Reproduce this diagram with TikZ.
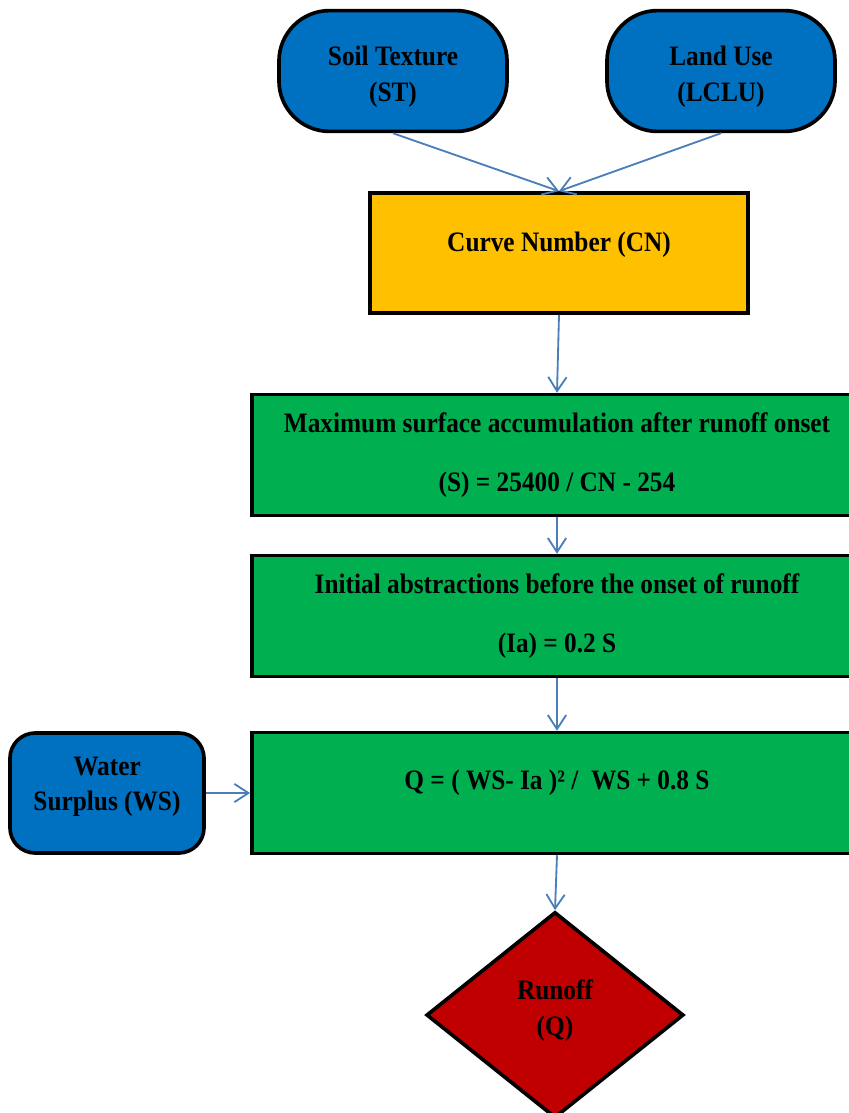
\documentclass[tikz,border=0pt]{standalone}
\usepackage{fontspec}
\setmainfont{Liberation Serif}[FakeStretch=0.9]
\usetikzlibrary{arrows.meta,shapes.geometric}

\definecolor{inblue}{HTML}{0070C0}
\definecolor{cnyellow}{HTML}{FFC000}
\definecolor{stepgreen}{HTML}{00B050}
\definecolor{outred}{HTML}{C00000}
\definecolor{linkblue}{HTML}{4A7EBB}

\begin{document}
\begin{tikzpicture}[x=0.025cm, y=-0.025cm,
    box/.style={draw=black, line width=2.6pt, align=center,
        font=\fontsize{20}{24}\selectfont\bfseries},
    inbox/.style={box, rounded corners=36pt, fill=inblue,
        minimum width=5.7cm, minimum height=3.02cm, text height=47pt},
    eqbox/.style={box, fill=stepgreen, minimum width=15.25cm, minimum height=3.02cm},
    link/.style={draw=linkblue, line width=1.3pt, -{Straight Barb[length=10pt,width=13pt]}}]
    \clip (0,0) rectangle (849,1113);

    \node[inbox] (st) at (393,71) {Soil Texture\\[1.6pt](ST)};
    \node[inbox] (lu) at (721,71) {Land Use\\[1.6pt](LCLU)};
    \node[box, fill=cnyellow, minimum width=9.45cm, minimum height=3cm, text depth=16pt] (cn) at (559,253) {Curve Number (CN)};

    \node[eqbox] (ms) at (557,455) {Maximum surface accumulation after runoff onset\\[18pt](S) = 25400 / CN - 254};
    \node[eqbox] (ia) at (557,616) {Initial abstractions before the onset of runoff\\[18pt](Ia) = 0.2 S};
    \node[eqbox, text depth=18.5pt] (qf) at (557,793) {Q = ( WS- Ia )² /~ WS + 0.8 S};

    \node[box, fill=inblue, rounded corners=18pt, minimum width=4.85cm, minimum height=3cm, text depth=13pt] (ws) at (107,793) {Water\\[1pt]Surplus (WS)};
    \node[box, diamond, fill=outred, minimum width=6.43cm, minimum height=5.15cm, text depth=10.5pt] (ro) at (555,1015) {Runoff\\[2pt](Q)};

    % connectors
    \draw[link] (st.south) -- (cn.north);
    \draw[link] (lu.south) -- (cn.north);
    \draw[link] (cn.south) -- (ms.north);
    \draw[link] (ms.south) -- (ia.north);
    \draw[link] (ia.south) -- (qf.north);
    \draw[link] (ws.east) -- (qf.west);
    \draw[link] (qf.south) -- (ro.north);
\end{tikzpicture}
\end{document}
